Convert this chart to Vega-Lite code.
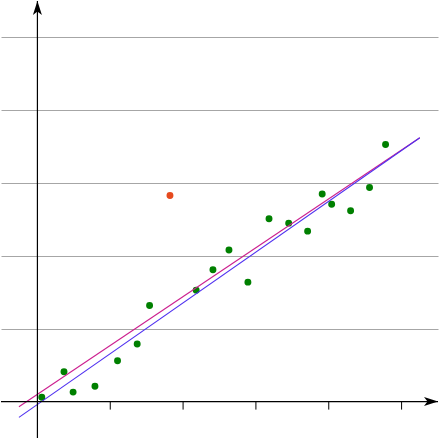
{
  "$schema": "https://vega.github.io/schema/vega-lite/v6.json",
  "description": "Scatter of 20 points, one outlier, two fitted lines, axes through the origin.",
  "autosize": {"type": "fit", "contains": "padding"},
  "width": 439,
  "height": 439,
  "padding": 0,
  "background": "white",
  "config": {"view": {"stroke": null}},
  "layer": [
    {
      "data": {"values": [
        {"x": 0.06, "y": 0.06, "kind": "in"},
        {"x": 0.365, "y": 0.41, "kind": "in"},
        {"x": 0.49, "y": 0.13, "kind": "in"},
        {"x": 0.79, "y": 0.21, "kind": "in"},
        {"x": 1.10, "y": 0.56, "kind": "in"},
        {"x": 1.37, "y": 0.79, "kind": "in"},
        {"x": 1.54, "y": 1.32, "kind": "in"},
        {"x": 1.82, "y": 2.83, "kind": "outlier"},
        {"x": 2.18, "y": 1.53, "kind": "in"},
        {"x": 2.41, "y": 1.81, "kind": "in"},
        {"x": 2.63, "y": 2.08, "kind": "in"},
        {"x": 2.89, "y": 1.64, "kind": "in"},
        {"x": 3.18, "y": 2.51, "kind": "in"},
        {"x": 3.45, "y": 2.45, "kind": "in"},
        {"x": 3.71, "y": 2.34, "kind": "in"},
        {"x": 3.91, "y": 2.85, "kind": "in"},
        {"x": 4.04, "y": 2.71, "kind": "in"},
        {"x": 4.30, "y": 2.62, "kind": "in"},
        {"x": 4.56, "y": 2.94, "kind": "in"},
        {"x": 4.78, "y": 3.53, "kind": "in"}
      ]},
      "mark": {"type": "circle", "size": 48, "opacity": 1},
      "encoding": {
        "x": {"field": "x", "type": "quantitative", "scale": {"domain": [-0.5, 5.5], "nice": false, "zero": false}, "axis": null},
        "y": {"field": "y", "type": "quantitative", "scale": {"domain": [-0.5, 5.5], "nice": false, "zero": false},
          "axis": {"values": [1, 2, 3, 4, 5], "grid": true, "gridColor": "#a6a6a6", "gridOpacity": 1, "gridWidth": 1,
            "domain": false, "ticks": false, "labels": false, "title": null}},
        "color": {"field": "kind", "type": "nominal", "scale": {"domain": ["in", "outlier"], "range": ["#008000", "#e64a1e"]}, "legend": null}
      }
    },
    {
      "data": {"values": [
        {"x": -0.254, "y": -0.072, "fit": "all"},
        {"x": 5.25, "y": 3.623, "fit": "all"},
        {"x": -0.254, "y": -0.217, "fit": "clean"},
        {"x": 5.25, "y": 3.623, "fit": "clean"}
      ]},
      "mark": {"type": "line", "strokeWidth": 1.1},
      "encoding": {
        "x": {"field": "x", "type": "quantitative"},
        "y": {"field": "y", "type": "quantitative"},
        "detail": {"field": "fit"},
        "stroke": {"field": "fit", "type": "nominal", "scale": {"domain": ["all", "clean"], "range": ["#cc1f8f", "#4f30f0"]}, "legend": null}
      }
    },
    {
      "data": {"values": [{"axis": "y"}]},
      "mark": {"type": "rule", "color": "black", "strokeWidth": 1.2},
      "encoding": {"x": {"datum": 0, "type": "quantitative"}}
    },
    {
      "data": {"values": [{"axis": "x"}]},
      "mark": {"type": "rule", "color": "black", "strokeWidth": 1.2},
      "encoding": {"y": {"datum": 0, "type": "quantitative"}}
    },
    {
      "data": {"values": [{"t": 1}, {"t": 2}, {"t": 3}, {"t": 4}, {"t": 5}]},
      "mark": {"type": "rule", "color": "black", "strokeWidth": 1},
      "encoding": {
        "x": {"field": "t", "type": "quantitative"},
        "y": {"datum": 0, "type": "quantitative"},
        "y2": {"datum": -0.11}
      }
    },
    {
      "data": {"values": [{"arrow": "y"}]},
      "mark": {"type": "point", "shape": "M0,0 L4.5,14 L0,10.5 L-4.5,14 Z", "size": 4, "filled": true, "color": "black", "opacity": 1, "strokeWidth": 0},
      "encoding": {
        "x": {"datum": 0, "type": "quantitative"},
        "y": {"datum": 5.5, "type": "quantitative"}
      }
    },
    {
      "data": {"values": [{"arrow": "x"}]},
      "mark": {"type": "point", "shape": "M0,0 L4.5,14 L0,10.5 L-4.5,14 Z", "size": 4, "angle": 90, "filled": true, "color": "black", "opacity": 1, "strokeWidth": 0},
      "encoding": {
        "x": {"datum": 5.5, "type": "quantitative"},
        "y": {"datum": 0, "type": "quantitative"}
      }
    }
  ]
}
